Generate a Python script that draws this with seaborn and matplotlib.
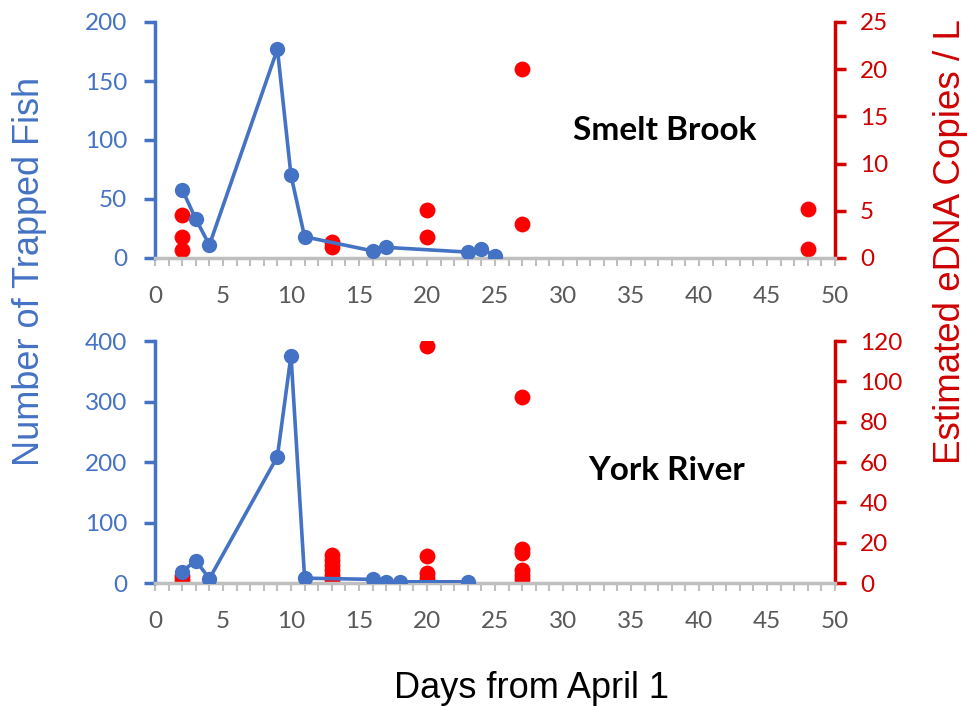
import numpy as np
import pandas as pd
import matplotlib
matplotlib.use("Agg")
import matplotlib.pyplot as plt
import seaborn as sns
from matplotlib.ticker import MultipleLocator

# Smelt Brook: trapped fish counts
sb_fish_day = [2, 3, 4, 9, 10, 11, 16, 17, 23, 24, 25]
sb_fish = [58, 33, 11, 177, 70, 18, 6, 9, 5, 8, 2]
# Smelt Brook: eDNA copies / L
sb_dna_day = [2, 2, 2, 13, 13, 20, 20, 27, 27, 48, 48]
sb_dna = [4.6, 2.2, 0.9, 1.7, 1.2, 5.1, 2.2, 20.0, 3.6, 5.2, 1.0]

# York River: trapped fish counts
yr_fish_day = [2, 3, 4, 9, 10, 11, 16, 17, 18, 23]
yr_fish = [19, 37, 7, 209, 376, 8, 6, 2, 2, 2]
# York River: eDNA copies / L
yr_dna_day = [2, 2, 13, 13, 13, 13, 13, 13, 20, 20, 20, 20,
              27, 27, 27, 27, 27, 27]
yr_dna = [3.5, 1.5, 14, 11.5, 9, 6.5, 4, 1.5, 117.5, 13.5, 5, 2.5,
          92, 17, 15, 6.5, 4, 2]

panels = [
    ("Smelt Brook", sb_fish_day, sb_fish, sb_dna_day, sb_dna, 200, 50, 25, 5),
    ("York River", yr_fish_day, yr_fish, yr_dna_day, yr_dna, 400, 100, 120, 20),
]

blue = "#4472C4"
red_dot = "#FF0000"
red_axis = "#D00000"
grey = "#BFBFBF"
grey_txt = "#595959"

sns.set_style("white")
plt.rcParams["font.family"] = ["Lato", "DejaVu Sans"]

W, H = 967, 707
fig = plt.figure(figsize=(W / 100, H / 100), dpi=100)

# axes boxes in pixels: (left, top, right, bottom)
boxes = [(155, 22, 835, 258), (155, 341, 835, 583)]

for (name, fd, fv, dd, dv, lmax, lstep, rmax, rstep), (l, t, r, b) in zip(panels, boxes):
    ax = fig.add_axes([l / W, 1 - b / H, (r - l) / W, (b - t) / H])
    ax2 = ax.twinx()

    sns.lineplot(x=fd, y=fv, ax=ax, color=blue, linewidth=2.6, marker="o",
                 markersize=11, markeredgewidth=0, zorder=3)
    sns.scatterplot(x=dd, y=dv, ax=ax2, color=red_dot, s=130, linewidth=0,
                    zorder=4)

    ax.set_xlim(0, 50)
    ax.set_ylim(0, lmax)
    ax2.set_ylim(0, rmax)
    ax.set_yticks(np.arange(0, lmax + 1, lstep))
    ax2.set_yticks(np.arange(0, rmax + 1, rstep))
    ax.xaxis.set_major_locator(MultipleLocator(5))
    ax.xaxis.set_minor_locator(MultipleLocator(1))

    for a in (ax, ax2):
        for s in a.spines.values():
            s.set_visible(False)
        a.set_xlabel("")
        a.set_ylabel("")
        a.grid(False)
        a.set_facecolor("none")

    ax.spines["left"].set_visible(True)
    ax.spines["left"].set_color(blue)
    ax.spines["left"].set_linewidth(2.5)
    ax.spines["bottom"].set_visible(True)
    ax.spines["bottom"].set_color(grey)
    ax.spines["bottom"].set_linewidth(2.5)
    ax2.spines["right"].set_visible(True)
    ax2.spines["right"].set_color(red_axis)
    ax2.spines["right"].set_linewidth(2.5)

    ax.tick_params(axis="y", left=True, direction="out", length=8, width=2.5,
                   color=blue, labelcolor=blue, labelsize=17.5, pad=12)
    ax.tick_params(axis="x", which="both", bottom=True, direction="out",
                   length=6, width=1.5, color=grey, labelcolor=grey_txt,
                   labelsize=17.5, pad=14)
    ax2.tick_params(axis="y", right=True, direction="out", length=8, width=2.5,
                    color=red_axis, labelcolor=red_axis, labelsize=17.5, pad=10)

    ax.set_zorder(ax2.get_zorder() + 1)
    ax.patch.set_visible(False)

fig.text(665 / W, 1 - 130 / H, "Smelt Brook", fontsize=24, fontweight="bold",
         ha="center", va="center", color="black")
fig.text(667 / W, 1 - 470 / H, "York River", fontsize=24, fontweight="bold",
         ha="center", va="center", color="black")

fig.text(30 / W, 1 - 271 / H, "Number of Trapped Fish", rotation=90,
         fontsize=26, color=blue, ha="center", va="center",
         family=["Liberation Sans", "DejaVu Sans"])
fig.text(950 / W, 1 - 242 / H, "Estimated eDNA Copies / L", rotation=90,
         fontsize=26.5, color=red_axis, ha="center", va="center",
         family=["Liberation Sans", "DejaVu Sans"])
fig.text(532 / W, 1 - 688 / H, "Days from April 1", fontsize=26,
         color="black", ha="center", va="center",
         family=["Liberation Sans", "DejaVu Sans"])

fig.savefig("out.png", dpi=100, facecolor="white")
